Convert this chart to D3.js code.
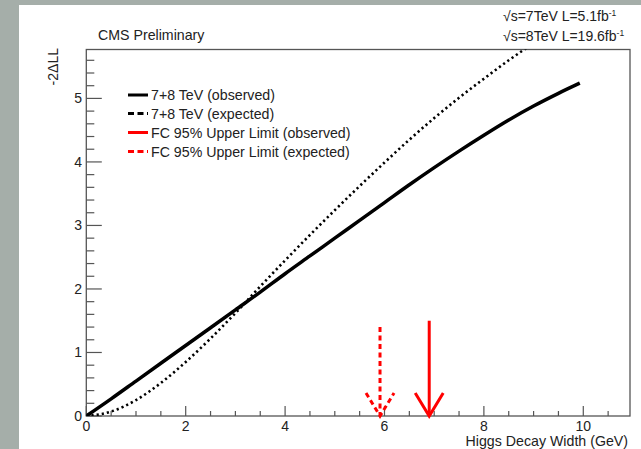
<!DOCTYPE html>
<html><head><meta charset="utf-8">
<script src="https://cdn.jsdelivr.net/npm/d3@7"></script>
<style>
html,body{margin:0;padding:0;background:#a5aea9;}
svg{display:block;}
text{font-family:"Liberation Sans",Arial,Helvetica,sans-serif;fill:#222;}
</style></head><body>
<svg id="c" width="641" height="449"></svg>
<script>
// ---- data ----
const obsX = [0,0.5,1,1.5,2,2.5,3,3.5,4,4.5,5,5.5,6,6.5,7,7.5,8,8.5,9,9.5,9.93];
const obsY = [0,0.27,0.55,0.83,1.11,1.39,1.67,1.95,2.24,2.52,2.8,3.08,3.36,3.64,3.91,4.17,4.42,4.66,4.88,5.08,5.24];
const expX = [0,0.5,1,1.5,2,2.5,3,3.5,4,4.5,5,5.5,6,6.5,7,7.5,8,8.5,9];
const expY = [0,0.07,0.25,0.52,0.85,1.22,1.62,2.04,2.45,2.85,3.24,3.62,3.99,4.35,4.69,5.01,5.31,5.6,5.87];
const limitNames = ["observed","expected"];
const limitX = [6.9, 5.91];
const limitTop = [1.5, 1.4];
const xTicks = [0,2,4,6,8,10];
const yTicks = [0,1,2,3,4,5];
const legendLabels = ["7+8 TeV (observed)","7+8 TeV (expected)","FC 95% Upper Limit (observed)","FC 95% Upper Limit (expected)"];
const xTitle = "Higgs Decay Width (GeV)";
const yTitle = "-2\u0394LL";

const svg = d3.select("#c");
svg.append("rect").attr("x",19).attr("y",5).attr("width",641-19).attr("height",449-5).attr("fill","#fff");

const L=86.3, R=630, T=49.5, B=416;
const x = d3.scaleLinear().domain([0,10.94]).range([L,R]);
const y = d3.scaleLinear().domain([0,5.77]).range([B,T]);

svg.append("defs").append("clipPath").attr("id","clip")
  .append("rect").attr("x",L).attr("y",T).attr("width",R-L).attr("height",B-T);

// frame
svg.append("rect").attr("x",L).attr("y",T).attr("width",R-L).attr("height",B-T)
  .attr("fill","none").attr("stroke","#555").attr("stroke-width",1.3);

// x ticks (major + minor) drawn inward
const xMinor = d3.range(0,10.94,0.5);
svg.append("g").selectAll("line").data(xMinor).join("line")
  .attr("x1",d=>x(d)).attr("x2",d=>x(d)).attr("y1",B)
  .attr("y2",d=> (Math.abs(d%2)<1e-9)? B-10 : B-5)
  .attr("stroke","#555").attr("stroke-width",1.2);
svg.append("g").selectAll("text").data(xTicks).join("text")
  .attr("x",d=>x(d)).attr("y",430.5).attr("text-anchor","middle")
  .attr("font-size",14).text(d=>d);

// y ticks
const yMinor = d3.range(0,5.77,0.2);
svg.append("g").selectAll("line").data(yMinor).join("line")
  .attr("x1",L).attr("y1",d=>y(d)).attr("y2",d=>y(d))
  .attr("x2",d=> (Math.abs(d-Math.round(d))<1e-6)? L+15.5 : L+8)
  .attr("stroke","#555").attr("stroke-width",1.2);
svg.append("g").selectAll("text").data(yTicks).join("text")
  .attr("x",82).attr("y",d=>y(d)+5).attr("text-anchor","end")
  .attr("font-size",14).text(d=>d);

// titles
svg.append("text").attr("x",628).attr("y",446).attr("text-anchor","end").attr("font-size",14.2).text(xTitle);
svg.append("text").attr("transform","translate(58,48) rotate(-90)").attr("text-anchor","end").attr("font-size",14).text(yTitle);
svg.append("text").attr("x",98).attr("y",40).attr("font-size",14.2).text("CMS Preliminary");
const en = [["7TeV","5.1"],["8TeV","19.6"]];
en.forEach((e,i)=>{
  const t = svg.append("text").attr("x",503).attr("y",21+i*20).attr("font-size",14);
  t.append("tspan").text("\u221As="+e[0]+" L="+e[1]+"fb");
  t.append("tspan").attr("dy",-5).attr("font-size",8.5).text("-1");
});

// curves
const line = d3.line().x(d=>x(d[0])).y(d=>y(d[1])).curve(d3.curveMonotoneX);
const g = svg.append("g").attr("clip-path","url(#clip)");
g.append("path").datum(expX.map((v,i)=>[v,expY[i]])).attr("d",line)
  .attr("fill","none").attr("stroke","#000").attr("stroke-width",2.6).attr("stroke-dasharray","2.2,3");
g.append("path").datum(obsX.map((v,i)=>[v,obsY[i]])).attr("d",line)
  .attr("fill","none").attr("stroke","#000").attr("stroke-width",3.5);

// arrows
limitX.forEach((lx,i)=>{
  const ag = svg.append("g").attr("stroke","#f00").attr("stroke-width",3).attr("fill","none");
  const dash = i===1 ? "5,3.5" : null;
  ag.append("line").attr("x1",x(lx)).attr("x2",x(lx)).attr("y1",y(limitTop[i])).attr("y2",y(0)-1)
    .attr("stroke-dasharray",dash);
  ag.append("path").attr("d",`M${x(lx)-14},${y(0)-23}L${x(lx)},${y(0)}L${x(lx)+14},${y(0)-23}`)
    .attr("stroke-dasharray",dash);
});

// legend
const lg = svg.append("g");
const ly = [95,113.5,132.5,151.5];
const lcol = ["#000","#000","#f00","#f00"];
const ldash = [null,"6,3.5",null,"6,3.5"];
legendLabels.forEach((lab,i)=>{
  lg.append("line").attr("x1",128).attr("x2",148).attr("y1",ly[i]).attr("y2",ly[i])
    .attr("stroke",lcol[i]).attr("stroke-width",3).attr("stroke-dasharray",ldash[i]);
  lg.append("text").attr("x",151).attr("y",ly[i]+5).attr("font-size",14.2).text(lab);
});
</script>
</body></html>
